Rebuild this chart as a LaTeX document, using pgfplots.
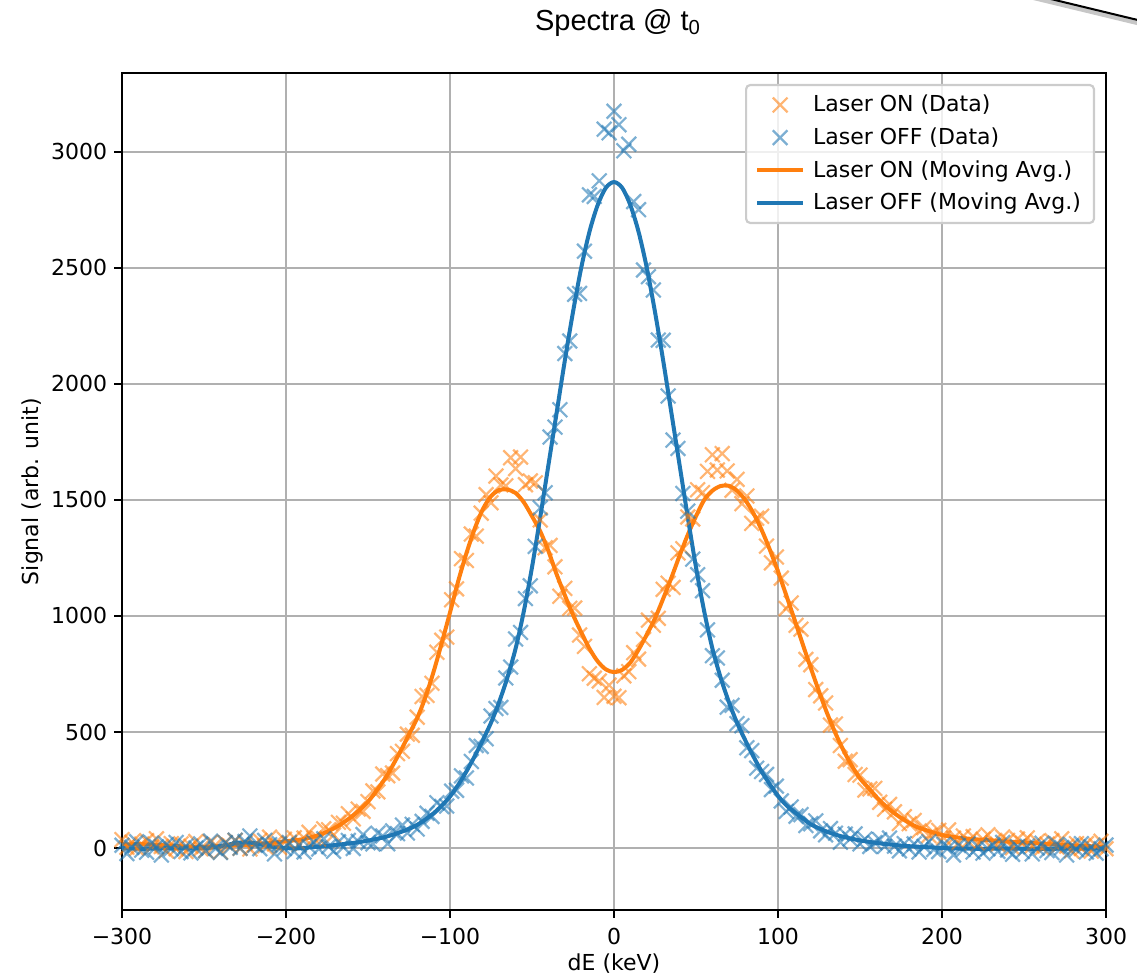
\documentclass[border=0pt]{standalone}
\usepackage{fontspec}
\setmainfont{DejaVu Sans}
\newfontfamily\titlefont{Liberation Sans}
\usepackage{pgfplots}
\pgfplotsset{compat=1.18}
\definecolor{tabblue}{RGB}{31,119,180}
\definecolor{taborange}{RGB}{255,127,14}
\definecolor{gridgray}{RGB}{176,176,176}
\definecolor{legedge}{RGB}{204,204,204}
\newcommand{\axfont}{\fontsize{11pt}{13pt}\selectfont}
\begin{document}
\begin{tikzpicture}
\begin{axis}[
  scale only axis, width=492pt, height=418.5pt,
  xmin=-300, xmax=300, ymin=-267, ymax=3340,
  xtick={-300,-200,...,300},
  xticklabels={−300,−200,−100,0,100,200,300},
  ytick={0,500,...,3000},
  /pgf/number format/assume math mode=true,
  /pgf/number format/1000 sep={},
  tick label style={font=\axfont},
  xticklabel style={yshift=-1.5pt},
  label style={font=\axfont},
  tick align=outside, major tick length=3.85pt,
  xtick pos=bottom, ytick pos=left,
  tick style={black, line width=0.88pt},
  axis line style={line width=0.88pt},
  grid=major, major grid style={gridgray, line width=0.88pt},
  xlabel={dE (keV)}, ylabel={Signal (arb. unit)},
  xlabel style={at={(axis description cs:0.5,-0.0635)}, anchor=center},
  ylabel style={at={(axis description cs:-0.0915,0.5)}, anchor=center},
  legend cell align=left,
  legend style={at={(1,1)}, xshift=-5.5pt, yshift=-5.5pt, anchor=north east,
    draw=legedge, line width=1.1pt, rounded corners=2pt, fill=white, fill opacity=0.8, text opacity=1,
    font=\axfont, row sep=2.5pt, column sep=2pt, inner xsep=4.5pt, inner ysep=3pt},
  legend image code/.code={\draw[mark repeat=2,mark phase=2,#1] plot coordinates {(0pt,0pt) (11.5pt,0pt) (23pt,0pt)};},
]
\coordinate (ll) at (rel axis cs:0,0);
\coordinate (ur) at (rel axis cs:1,1);
\coordinate (tc) at (rel axis cs:0.5,1);

\addplot[only marks, mark=x, mark size=5.2pt, taborange, opacity=0.58, mark options={line width=1.1pt}] coordinates {
(-300,36) (-297,3) (-294,25) (-291,-1) (-288,17) (-285,32) (-282,5) (-279,40) (-276,7) (-273,-12) (-270,19) (-267,-3) (-264,18) (-261,-15) (-258,8) (-255,28) (-252,-3) (-249,-11) (-246,25) (-243,13) (-240,-17) (-237,23) (-234,8) (-231,33) (-228,-1) (-225,21) (-222,-4) (-219,16) (-216,33) (-213,9) (-210,47) (-207,18) (-204,2) (-201,38) (-198,19) (-195,44) (-192,15) (-189,43) (-186,68) (-183,42) (-180,40) (-177,83) (-174,79) (-171,56) (-168,111) (-165,107) (-162,148) (-159,126) (-156,168) (-153,158) (-150,200) (-147,246) (-144,242) (-141,319) (-138,312) (-135,323) (-132,407) (-129,417) (-126,491) (-123,486) (-120,564) (-117,653) (-114,658) (-111,710) (-108,844) (-105,895) (-102,909) (-99,1070) (-96,1117) (-93,1247) (-90,1239) (-87,1353) (-84,1344) (-81,1443) (-78,1523) (-75,1488) (-72,1603) (-69,1565) (-66,1561) (-63,1682) (-60,1635) (-57,1685) (-54,1566) (-51,1582) (-48,1574) (-45,1414) (-42,1294) (-39,1304) (-36,1212) (-33,1085) (-30,1119) (-27,1033) (-24,1034) (-21,918) (-18,869) (-15,751) (-12,732) (-9,720) (-6,649) (-3,702) (0,654) (3,648) (6,742) (9,760) (12,842) (15,814) (18,899) (21,982) (24,960) (27,990) (30,1115) (33,1141) (36,1123) (39,1272) (42,1290) (45,1427) (48,1418) (51,1544) (54,1532) (57,1623) (60,1695) (63,1629) (66,1700) (69,1625) (72,1542) (75,1589) (78,1484) (81,1517) (84,1399) (87,1421) (90,1430) (93,1301) (96,1229) (99,1254) (102,1163) (105,1032) (108,1056) (111,960) (114,943) (117,813) (120,790) (123,683) (126,656) (129,625) (132,530) (135,535) (138,442) (141,374) (144,381) (147,317) (150,314) (153,250) (156,255) (159,257) (162,197) (165,167) (168,188) (171,156) (174,106) (177,135) (180,105) (183,119) (186,74) (189,88) (192,54) (195,66) (198,76) (201,44) (204,78) (207,43) (210,21) (213,52) (216,29) (219,49) (222,16) (225,38) (228,57) (231,25) (234,15) (237,48) (240,33) (243,1) (246,39) (249,21) (252,44) (255,9) (258,28) (261,1) (264,17) (267,32) (270,5) (273,40) (276,8) (279,-12) (282,19) (285,-2) (288,19) (291,-13) (294,10) (297,29) (300,-3)
};
\addlegendentry{Laser ON (Data)}

\addplot[only marks, mark=x, mark size=5.2pt, tabblue, opacity=0.58, mark options={line width=1.1pt}] coordinates {
(-300,12) (-297,-24) (-294,3) (-291,27) (-288,-9) (-285,-18) (-282,21) (-279,6) (-276,-30) (-273,15) (-270,-3) (-267,24) (-264,-15) (-261,9) (-258,-21) (-255,0) (-252,18) (-249,-12) (-246,30) (-243,-2) (-240,-19) (-237,23) (-234,3) (-231,34) (-228,-1) (-225,28) (-222,52) (-219,12) (-216,-3) (-213,33) (-210,14) (-207,-25) (-204,18) (-201,-2) (-198,24) (-195,-15) (-192,12) (-189,-17) (-186,6) (-183,25) (-180,-4) (-177,40) (-174,6) (-171,-14) (-168,27) (-165,4) (-162,33) (-159,-2) (-156,29) (-153,58) (-150,23) (-147,18) (-144,64) (-141,52) (-138,19) (-135,74) (-132,62) (-129,99) (-126,65) (-123,102) (-120,82) (-117,115) (-114,150) (-111,136) (-108,195) (-105,179) (-102,181) (-99,245) (-96,249) (-93,311) (-90,302) (-87,373) (-84,442) (-81,438) (-78,471) (-75,569) (-72,601) (-69,606) (-66,733) (-63,780) (-60,901) (-57,929) (-54,1075) (-51,1130) (-48,1300) (-45,1466) (-42,1531) (-39,1771) (-36,1814) (-33,1889) (-30,2131) (-27,2185) (-24,2386) (-21,2390) (-18,2572) (-15,2815) (-12,2808) (-9,2875) (-6,3098) (-3,3082) (0,3175) (3,3117) (6,3005) (9,3033) (12,2786) (15,2751) (18,2491) (21,2462) (24,2405) (27,2189) (30,2188) (33,1948) (36,1758) (39,1722) (42,1528) (45,1452) (48,1245) (51,1178) (54,1109) (57,940) (60,829) (63,819) (66,723) (69,607) (72,615) (75,536) (78,527) (81,432) (84,420) (87,344) (90,330) (93,317) (96,252) (99,267) (102,203) (105,158) (108,177) (111,137) (114,144) (117,97) (120,105) (123,117) (126,74) (129,57) (132,84) (135,64) (138,25) (141,60) (144,39) (147,61) (150,18) (153,39) (156,7) (159,23) (162,36) (165,7) (168,43) (171,8) (174,-12) (177,19) (180,-4) (183,18) (186,-17) (189,7) (192,27) (195,-6) (198,-15) (201,16) (204,2) (207,-30) (210,11) (213,-6) (216,19) (219,-17) (222,5) (225,-22) (228,-3) (231,13) (234,-14) (237,24) (240,-8) (243,-27) (246,6) (249,-15) (252,8) (255,-25) (258,0) (261,21) (264,-11) (267,-19) (270,16) (273,2) (276,-30) (279,11) (282,-6) (285,19) (288,-17) (291,5) (294,-22) (297,-3) (300,13)
};
\addlegendentry{Laser OFF (Data)}

\addplot[taborange, line width=2pt, mark=none, smooth] coordinates {
(-300,15) (-295,16) (-290,17) (-285,16) (-280,14) (-275,12) (-270,10) (-265,8) (-260,6) (-255,5) (-250,5) (-245,7) (-240,9) (-235,11) (-230,12) (-225,13) (-220,15) (-215,18) (-210,21) (-205,25) (-200,30) (-195,33) (-190,38) (-185,46) (-180,56) (-175,70) (-170,88) (-165,110) (-160,135) (-155,165) (-150,200) (-145,245) (-140,295) (-135,355) (-130,420) (-125,490) (-120,560) (-115,650) (-110,760) (-105,885) (-100,1015) (-95,1150) (-90,1270) (-85,1375) (-80,1460) (-75,1516) (-70,1543) (-65,1545) (-60,1530) (-55,1490) (-50,1430) (-45,1365) (-40,1280) (-35,1180) (-30,1090) (-25,1005) (-20,930) (-15,860) (-10,805) (-5,770) (0,758) (5,768) (10,800) (15,855) (20,920) (25,990) (30,1075) (35,1165) (40,1260) (45,1350) (50,1430) (55,1500) (60,1540) (65,1560) (70,1561) (75,1540) (80,1500) (85,1443) (90,1371) (95,1286) (100,1192) (105,1090) (110,986) (115,880) (120,776) (125,675) (130,580) (135,495) (140,420) (145,355) (150,300) (155,260) (160,220) (165,185) (170,155) (175,130) (180,108) (185,90) (190,78) (195,66) (200,56) (210,45) (220,38) (230,33) (240,28) (250,24) (260,19) (270,15) (280,11) (290,8) (300,5)
};
\addlegendentry{Laser ON (Moving Avg.)}

\addplot[tabblue, line width=2pt, mark=none, smooth] coordinates {
(-300,0) (-295,-2) (-290,-3) (-285,-3) (-280,-2) (-275,-1) (-270,0) (-265,0) (-260,-1) (-255,-2) (-250,-1) (-245,2) (-240,8) (-235,15) (-230,22) (-225,25) (-220,22) (-215,15) (-210,8) (-205,3) (-200,0) (-195,-2) (-190,0) (-185,3) (-180,6) (-175,9) (-170,13) (-165,17) (-160,21) (-155,26) (-150,32) (-145,39) (-140,47) (-135,57) (-130,69) (-125,83) (-120,100) (-115,123) (-110,150) (-105,183) (-100,222) (-95,272) (-90,330) (-85,395) (-80,465) (-75,540) (-70,630) (-65,735) (-60,860) (-55,1020) (-50,1210) (-45,1425) (-40,1650) (-35,1875) (-30,2100) (-25,2310) (-20,2500) (-15,2655) (-10,2770) (-5,2845) (0,2870) (5,2845) (10,2770) (15,2655) (20,2500) (25,2310) (30,2100) (35,1875) (40,1650) (45,1425) (50,1210) (55,1020) (60,860) (65,735) (70,630) (75,540) (80,465) (85,395) (90,330) (95,275) (100,225) (105,185) (110,155) (115,128) (120,102) (125,85) (130,70) (135,58) (140,48) (145,40) (150,33) (160,22) (170,14) (180,8) (190,4) (200,0) (210,-2) (220,-3) (230,-3) (240,-2) (250,-3) (260,-4) (270,-3) (280,-2) (290,-3) (300,-2)
};
\addlegendentry{Laser OFF (Moving Avg.)}
\end{axis}
\node[font=\titlefont\fontsize{14.5pt}{17pt}\selectfont] at ([xshift=2pt,yshift=25pt]tc) {Spectra @ t\textsubscript{0}};
\draw[black!22, line width=2.2pt] ([xshift=-38pt,yshift=38pt]ur) -- ([xshift=27pt,yshift=22.3pt]ur);
\draw[black, line width=1pt] ([xshift=-38pt,yshift=39.5pt]ur) -- ([xshift=27pt,yshift=23.8pt]ur);
\pgfresetboundingbox
\path[use as bounding box] ([xshift=-61pt,yshift=-34pt]ll) rectangle ([xshift=15.5pt,yshift=36.5pt]ur);
\end{tikzpicture}
\end{document}
